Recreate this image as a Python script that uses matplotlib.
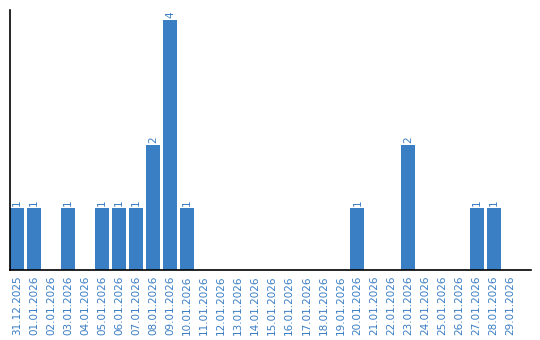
import numpy as np
import matplotlib
matplotlib.use("Agg")
import matplotlib.pyplot as plt

dates = ["31.12.2025", "01.01.2026", "02.01.2026", "03.01.2026", "04.01.2026",
         "05.01.2026", "06.01.2026", "07.01.2026", "08.01.2026", "09.01.2026",
         "10.01.2026", "11.01.2026", "12.01.2026", "13.01.2026", "14.01.2026",
         "15.01.2026", "16.01.2026", "17.01.2026", "18.01.2026", "19.01.2026",
         "20.01.2026", "21.01.2026", "22.01.2026", "23.01.2026", "24.01.2026",
         "25.01.2026", "26.01.2026", "27.01.2026", "28.01.2026", "29.01.2026"]
counts = [1, 1, 0, 1, 0, 1, 1, 1, 2, 4,
          1, 0, 0, 0, 0, 0, 0, 0, 0, 0,
          1, 0, 0, 2, 0, 0, 0, 1, 1, 0]

blue = "#3a7ec3"
txt = "#3a7dc4"

fig = plt.figure(figsize=(5.4, 3.4), dpi=100)
ax = fig.add_axes([10/540, 70/340, 521/540, 260/340])

x = np.arange(len(dates))
ax.bar(x, counts, width=0.82, color=blue)
for i, c in enumerate(counts):
    if c > 0:
        ax.text(i, c + 0.03, str(c), rotation=90, ha="center", va="bottom",
                color=txt, fontsize=7.5)

ax.set_xlim(-0.41, 30.2)
ax.set_ylim(0, 4.16)
ax.set_xticks(x)
ax.set_xticklabels(dates, rotation=90, color=txt, fontsize=7.5)
ax.tick_params(axis="x", length=0, pad=4)
ax.set_yticks([])
ax.spines["top"].set_visible(False)
ax.spines["right"].set_visible(False)
ax.spines["left"].set_color("black")
ax.spines["bottom"].set_color("black")
ax.spines["left"].set_linewidth(1.2)
ax.spines["bottom"].set_linewidth(1.2)

fig.savefig("out.png", dpi=100)
